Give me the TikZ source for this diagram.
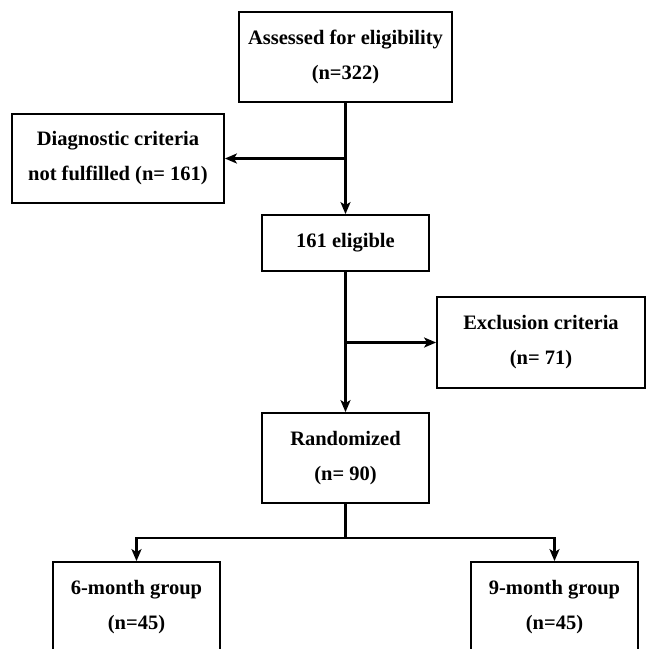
\documentclass[tikz,border=0pt]{standalone}
\usepackage{fontspec}
\setmainfont{Liberation Serif}
\usetikzlibrary{arrows.meta, positioning}

\begin{document}
\begin{tikzpicture}[->,>={Stealth[length=12pt,width=10pt,inset=3pt]}, line width=2.8pt, x=1pt, y=1pt, on grid,
  box/.style={rectangle, draw, line width=1.8pt, align=center, inner sep=0pt,
    font=\bfseries\fontsize{20.5}{35}\selectfont}]

  \useasboundingbox (0,0) rectangle (646,-649);

  \node[box, minimum width=213pt, minimum height=90pt] (0) at (345.5,-57) {Assessed for eligibility\\(n=322)};
  \node[box, minimum width=212pt, minimum height=89pt] (1) [below left=101.5pt and 227.5pt of 0] {Diagnostic criteria\\not fulfilled (n= 161)};
  \node[box, minimum width=167pt, minimum height=56pt] (2) [below=186pt of 0] {161 eligible};
  \node[box, minimum width=208pt, minimum height=91pt] (3) [below right=99.5pt and 195.5pt of 2] {Exclusion criteria\\(n= 71)};
  \node[box, minimum width=167pt, minimum height=90pt] (4) [below=215pt of 2] {Randomized\\(n= 90)};
  \node[box, minimum width=167pt, minimum height=90pt] (5) [below left=149pt and 209pt of 4] {6-month group\\(n=45)};
  \node[box, minimum width=167pt, minimum height=90pt] (6) [below right=149pt and 209pt of 4] {9-month group\\(n=45)};
  \path (4) ++(0,-80) coordinate (s);

\path[->]
(0)	edge (2)
(2)	edge (4);

  \draw (0 |- 1) -- (1);
  \draw (2 |- 3) -- (3);
  \draw[-] (4) -- (s);
  \draw (s) -| (5);
  \draw (s) -| (6);

\end{tikzpicture}
\end{document}
